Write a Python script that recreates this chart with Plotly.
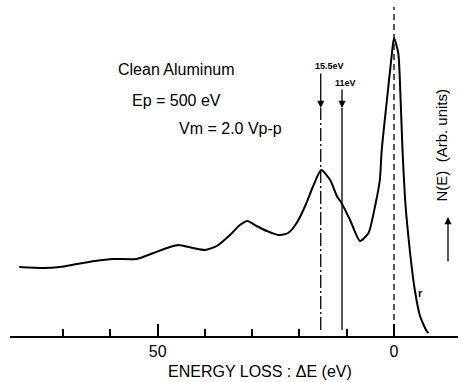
import plotly.graph_objects as go

# Electron energy-loss spectrum of clean aluminum (Ep = 500 eV)
energy_loss = [79.3, 74.2, 70.7, 67.1, 63.3, 59.5, 54.5, 50.9, 47.4,
               45.6, 42.5, 40.0, 37.5, 34.7, 32.6, 31.0, 29.1, 26.9, 24.5,
               22.4, 20.6, 18.8, 17.1, 15.4, 13.5, 12.1, 11.1, 9.3, 7.2,
               5.4, 4.0, 3.0, 2.6, 1.5, 0.5, 0.0, -0.9, -1.4, -1.8,
               -2.3, -2.7, -3.4, -4.4, -5.5, -6.9, -7.3]
intensity = [69, 68, 69, 72, 75, 77, 77, 83, 89,
             91, 88, 86, 90, 101, 111, 115, 110, 105, 101,
             103, 113, 130, 150, 166, 156, 140, 133, 116, 95,
             103, 130, 156, 186, 236, 280, 298, 283, 236, 186,
             140, 116, 83, 46, 20, 5, 3]

# Loss features marked on the spectrum (eV)
surface_plasmon = 11.0
bulk_plasmon = 15.5
elastic_peak = 0.0

major_ticks = [50, 0]
major_tick_text = ["50", "0"]
minor_ticks = [70, 60, 40, 30, 20, 10]

W, H = 461, 382
B = 46
PLOT_H = H - B
FONT = "Liberation Sans"


def px(xp):
    return xp / W


def py(yp):
    return (PLOT_H - yp) / PLOT_H


fig = go.Figure()
fig.add_trace(go.Scatter(
    x=energy_loss, y=intensity, mode="lines",
    line=dict(color="black", width=2, shape="spline", smoothing=0.6),
    hoverinfo="skip", showlegend=False,
))

# marker lines
fig.add_shape(type="line", x0=elastic_peak, x1=elastic_peak, y0=6, y1=329,
              line=dict(color="black", width=1.3, dash="6px,4px"))
fig.add_shape(type="line", x0=bulk_plasmon, x1=bulk_plasmon, y0=6, y1=228,
              line=dict(color="black", width=1.3, dash="13px,3px,2px,3px"))
fig.add_shape(type="line", x0=surface_plasmon, x1=surface_plasmon, y0=6, y1=228,
              line=dict(color="black", width=1.3))

# arrows pointing at the plasmon energies
for xv, length in [(bulk_plasmon, 36), (surface_plasmon, 20)]:
    fig.add_annotation(x=xv, y=228, ax=0, ay=-length, axref="pixel", ayref="pixel",
                       text="", showarrow=True, arrowhead=2, arrowsize=1.1,
                       arrowwidth=1.3, arrowcolor="black")

labels = [
    ("Clean Aluminum", 176, 69, 16),
    ("Ep = 500 eV", 176, 100, 16),
    ("Vm = 2.0 Vp-p", 230, 128, 16),
    ("<b>15.5eV</b>", 329, 66, 9),
    ("<b>11eV</b>", 345, 83, 9),
    ("<b>r</b>", 420, 293, 11),
    ("ENERGY LOSS : ΔE (eV)", 260, 371, 16),
]
for text, xp, yp, size in labels:
    fig.add_annotation(x=px(xp), y=py(yp), xref="paper", yref="paper",
                       text=text, showarrow=False, xanchor="center", yanchor="middle",
                       font=dict(family=FONT, size=size, color="black"))

# y-axis label with upward arrow
fig.add_annotation(x=px(451), y=py(145), xref="paper", yref="paper",
                   text="N(E)  (Arb. units)", textangle=-90, showarrow=False,
                   font=dict(family=FONT, size=15, color="black"))
fig.add_annotation(x=px(448), y=py(217), xref="paper", yref="paper",
                   ax=0, ay=46, axref="pixel", ayref="pixel", text="",
                   showarrow=True, arrowhead=2, arrowsize=1.1, arrowwidth=1.3,
                   arrowcolor="black")

fig.update_xaxes(
    domain=[10 / W, 458 / W],
    range=[81.25, -13.54],
    showgrid=False, zeroline=False,
    showline=True, linecolor="black", linewidth=2,
    tickmode="array", tickvals=major_ticks, ticktext=major_tick_text,
    ticks="inside", ticklen=12, tickwidth=1.5, tickcolor="black",
    tickfont=dict(family=FONT, size=16, color="black"),
    minor=dict(tickvals=minor_ticks, ticks="inside", ticklen=7,
               tickwidth=1.5, tickcolor="black", showgrid=False),
)
fig.update_yaxes(visible=False, range=[0, PLOT_H], showgrid=False, zeroline=False)

fig.update_layout(
    width=W, height=H,
    margin=dict(l=0, r=0, t=0, b=B),
    paper_bgcolor="white", plot_bgcolor="white",
    showlegend=False,
)

fig.write_html("out.html")
